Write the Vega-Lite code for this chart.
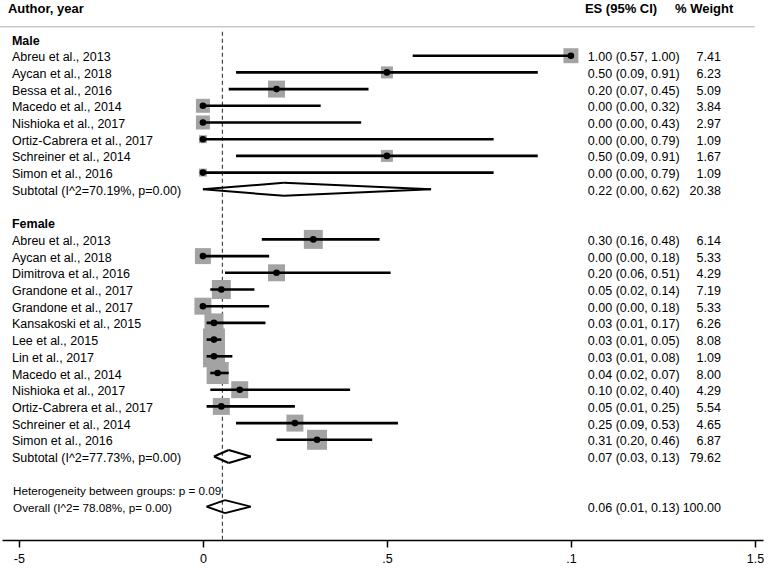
{
  "$schema": "https://vega.github.io/schema/vega-lite/v6.json",
  "width": 761,
  "height": 540,
  "autosize": {"type": "none"},
  "padding": {"left": 2, "top": 0, "right": 5, "bottom": 30},
  "background": "white",
  "config": {
    "view": {"stroke": null},
    "font": "Liberation Sans",
    "text": {"font": "Liberation Sans", "color": "black"}
  },
  "datasets": {
    "rows": [
      {"id": "Male", "label": "Male", "type": "group"},
      {"id": "M1", "label": "Abreu et al., 2013", "type": "study", "es": 1.00, "lo": 0.57, "hi": 1.00, "w": 7.41, "boxW": 5.6},
      {"id": "M2", "label": "Aycan et al., 2018", "type": "study", "es": 0.50, "lo": 0.09, "hi": 0.91, "w": 6.23, "boxW": 3.6},
      {"id": "M3", "label": "Bessa et al., 2016", "type": "study", "es": 0.20, "lo": 0.07, "hi": 0.45, "w": 5.09, "boxW": 7.2},
      {"id": "M4", "label": "Macedo et al., 2014", "type": "study", "es": 0.00, "lo": 0.00, "hi": 0.32, "w": 3.84, "boxW": 4.9},
      {"id": "M5", "label": "Nishioka et al., 2017", "type": "study", "es": 0.00, "lo": 0.00, "hi": 0.43, "w": 2.97, "boxW": 4.9},
      {"id": "M6", "label": "Ortiz-Cabrera et al., 2017", "type": "study", "es": 0.00, "lo": 0.00, "hi": 0.79, "w": 1.09, "boxW": 1.6},
      {"id": "M7", "label": "Schreiner et al., 2014", "type": "study", "es": 0.50, "lo": 0.09, "hi": 0.91, "w": 1.67, "boxW": 3.6},
      {"id": "M8", "label": "Simon et al., 2016", "type": "study", "es": 0.00, "lo": 0.00, "hi": 0.79, "w": 1.09, "boxW": 1.6},
      {"id": "MSub", "label": "Subtotal (I^2=70.19%, p=0.00)", "type": "subtotal", "es": 0.22, "lo": 0.00, "hi": 0.62, "w": 20.38},
      {"id": "Female", "label": "Female", "type": "group"},
      {"id": "F1", "label": "Abreu et al., 2013", "type": "study", "es": 0.30, "lo": 0.16, "hi": 0.48, "w": 6.14, "boxW": 9.0},
      {"id": "F2", "label": "Aycan et al., 2018", "type": "study", "es": 0.00, "lo": 0.00, "hi": 0.18, "w": 5.33, "boxW": 6.4},
      {"id": "F3", "label": "Dimitrova et al., 2016", "type": "study", "es": 0.20, "lo": 0.06, "hi": 0.51, "w": 4.29, "boxW": 7.2},
      {"id": "F4", "label": "Grandone et al., 2017", "type": "study", "es": 0.05, "lo": 0.02, "hi": 0.14, "w": 7.19, "boxW": 9.0},
      {"id": "F5", "label": "Grandone et al., 2017", "type": "study", "es": 0.00, "lo": 0.00, "hi": 0.18, "w": 5.33, "boxW": 7.2},
      {"id": "F6", "label": "Kansakoski et al., 2015", "type": "study", "es": 0.03, "lo": 0.01, "hi": 0.17, "w": 6.26, "boxW": 9.0},
      {"id": "F7", "label": "Lee et al., 2015", "type": "study", "es": 0.03, "lo": 0.01, "hi": 0.05, "w": 8.08, "boxW": 12.1},
      {"id": "F8", "label": "Lin et al., 2017", "type": "study", "es": 0.03, "lo": 0.01, "hi": 0.08, "w": 1.09, "boxW": 12.1},
      {"id": "F9", "label": "Macedo et al., 2014", "type": "study", "es": 0.04, "lo": 0.02, "hi": 0.07, "w": 8.00, "boxW": 12.1},
      {"id": "F10", "label": "Nishioka et al., 2017", "type": "study", "es": 0.10, "lo": 0.02, "hi": 0.40, "w": 4.29, "boxW": 7.2},
      {"id": "F11", "label": "Ortiz-Cabrera et al., 2017", "type": "study", "es": 0.05, "lo": 0.01, "hi": 0.25, "w": 5.54, "boxW": 7.2},
      {"id": "F12", "label": "Schreiner et al., 2014", "type": "study", "es": 0.25, "lo": 0.09, "hi": 0.53, "w": 4.65, "boxW": 7.2},
      {"id": "F13", "label": "Simon et al., 2016", "type": "study", "es": 0.31, "lo": 0.20, "hi": 0.46, "w": 6.87, "boxW": 10.0},
      {"id": "FSub", "label": "Subtotal (I^2=77.73%, p=0.00)", "type": "subtotal", "es": 0.07, "lo": 0.03, "hi": 0.13, "w": 79.62},
      {"id": "Het", "label": "Heterogeneity between groups: p = 0.09", "type": "note"},
      {"id": "Overall", "label": "Overall (I^2= 78.08%, p= 0.00)", "type": "overall", "es": 0.06, "lo": 0.01, "hi": 0.13, "w": 100.00}
    ]
  },
  "data": {"name": "rows"},
  "encoding": {
    "y": {
      "field": "id",
      "type": "nominal",
      "scale": {
        "domain": ["hdr", "sep", "Male", "M1", "M2", "M3", "M4", "M5", "M6", "M7", "M8", "MSub", "gapA", "Female", "F1", "F2", "F3", "F4", "F5", "F6", "F7", "F8", "F9", "F10", "F11", "F12", "F13", "FSub", "gapB", "Het", "Overall", "end"],
        "range": [-2.75, 531.65],
        "paddingInner": 0,
        "paddingOuter": 0
      },
      "axis": null
    }
  },
  "layer": [
    {
      "data": {"values": [{}]},
      "mark": {"type": "rule", "color": "#c8c8c8", "strokeWidth": 1.5, "yOffset": 4.4},
      "encoding": {
        "x": {"datum": -0.552, "type": "quantitative", "title": null},
        "x2": {"datum": 1.5},
        "y": {"datum": "sep", "type": "nominal"}
      }
    },
    {
      "data": {"values": [{}]},
      "mark": {"type": "rule", "color": "#444444", "strokeWidth": 1.2, "strokeDash": [4, 3], "yOffset": 9.5},
      "encoding": {
        "x": {"datum": 0.053, "type": "quantitative", "title": null},
        "y": {"datum": "sep", "type": "nominal"},
        "y2": {"value": "height"}
      }
    },
    {
      "transform": [{"filter": "datum.type === 'study'"}],
      "mark": {"type": "point", "shape": "square", "filled": true, "color": "#a3a3a3", "opacity": 1, "strokeWidth": 0},
      "encoding": {
        "x": {"field": "es", "type": "quantitative", "title": null},
        "size": {"field": "boxW", "type": "quantitative", "scale": {"type": "linear", "domain": [0, 12.1], "range": [0, 484]}, "legend": null}
      }
    },
    {
      "transform": [{"filter": "datum.type === 'study'"}],
      "mark": {"type": "rule", "color": "black", "strokeWidth": 2.6},
      "encoding": {
        "x": {
          "field": "lo",
          "type": "quantitative",
          "title": null,
          "scale": {"domain": [-0.546, 1.522], "nice": false, "zero": false},
          "axis": {
            "values": [-0.5, 0, 0.5, 1, 1.5],
            "labelExpr": "datum.value < -0.1 ? '-5' : datum.value < 0.1 ? '0' : datum.value < 0.6 ? '.5' : datum.value < 1.1 ? '.1' : '1.5'",
            "grid": false,
            "title": null,
            "domainColor": "black",
            "domainWidth": 1.5,
            "tickColor": "black",
            "tickWidth": 1.5,
            "tickSize": 7,
            "labelFont": "Liberation Sans",
            "labelFontSize": 12.5,
            "labelColor": "black",
            "labelPadding": 5,
            "labelFlush": false
          }
        },
        "x2": {"field": "hi"}
      }
    },
    {
      "transform": [{"filter": "datum.type === 'study'"}],
      "mark": {"type": "point", "shape": "circle", "filled": true, "color": "black", "opacity": 1, "size": 44},
      "encoding": {
        "x": {"field": "es", "type": "quantitative", "title": null}
      }
    },
    {
      "transform": [{"filter": "datum.type === 'subtotal' || datum.type === 'overall'"}],
      "mark": {"type": "rule", "color": "black", "strokeWidth": 2, "y2Offset": -6.5},
      "encoding": {
        "x": {"field": "lo", "type": "quantitative", "title": null},
        "x2": {"field": "es"},
        "y": {"field": "id", "type": "nominal", "bandPosition": 0.5},
        "y2": {"field": "id", "bandPosition": 0.5}
      }
    },
    {
      "transform": [{"filter": "datum.type === 'subtotal' || datum.type === 'overall'"}],
      "mark": {"type": "rule", "color": "black", "strokeWidth": 2, "yOffset": -6.5},
      "encoding": {
        "x": {"field": "es", "type": "quantitative", "title": null},
        "x2": {"field": "hi"},
        "y": {"field": "id", "type": "nominal", "bandPosition": 0.5},
        "y2": {"field": "id", "bandPosition": 0.5}
      }
    },
    {
      "transform": [{"filter": "datum.type === 'subtotal' || datum.type === 'overall'"}],
      "mark": {"type": "rule", "color": "black", "strokeWidth": 2, "y2Offset": 6.5},
      "encoding": {
        "x": {"field": "lo", "type": "quantitative", "title": null},
        "x2": {"field": "es"},
        "y": {"field": "id", "type": "nominal", "bandPosition": 0.5},
        "y2": {"field": "id", "bandPosition": 0.5}
      }
    },
    {
      "transform": [{"filter": "datum.type === 'subtotal' || datum.type === 'overall'"}],
      "mark": {"type": "rule", "color": "black", "strokeWidth": 2, "yOffset": 6.5},
      "encoding": {
        "x": {"field": "es", "type": "quantitative", "title": null},
        "x2": {"field": "hi"},
        "y": {"field": "id", "type": "nominal", "bandPosition": 0.5},
        "y2": {"field": "id", "bandPosition": 0.5}
      }
    },
    {
      "transform": [{"filter": "datum.type === 'study' || datum.type === 'subtotal'"}],
      "mark": {"type": "text", "align": "left", "baseline": "middle", "dy": 1.5, "fontSize": 12.5},
      "encoding": {
        "x": {"datum": -0.519, "type": "quantitative", "title": null},
        "text": {"field": "label"}
      }
    },
    {
      "transform": [{"filter": "datum.type === 'group'"}],
      "mark": {"type": "text", "align": "left", "baseline": "middle", "dy": 1.5, "fontSize": 12.5, "fontWeight": "bold"},
      "encoding": {
        "x": {"datum": -0.519, "type": "quantitative", "title": null},
        "text": {"field": "label"}
      }
    },
    {
      "transform": [{"filter": "datum.type === 'note' || datum.type === 'overall'"}],
      "mark": {"type": "text", "align": "left", "baseline": "middle", "dy": 1.5, "fontSize": 11.7},
      "encoding": {
        "x": {"datum": -0.516, "type": "quantitative", "title": null},
        "text": {"field": "label"}
      }
    },
    {
      "transform": [
        {"filter": "isValid(datum.es)"},
        {"calculate": "format(datum.es, '.2f') + ' (' + format(datum.lo, '.2f') + ', ' + format(datum.hi, '.2f') + ')'", "as": "ciText"}
      ],
      "mark": {"type": "text", "align": "left", "baseline": "middle", "dy": 1.5, "fontSize": 12.5},
      "encoding": {
        "x": {"datum": 1.046, "type": "quantitative", "title": null},
        "text": {"field": "ciText"}
      }
    },
    {
      "transform": [{"filter": "isValid(datum.w)"}],
      "mark": {"type": "text", "align": "right", "baseline": "middle", "dy": 1.5, "fontSize": 12.5},
      "encoding": {
        "x": {"datum": 1.4076, "type": "quantitative", "title": null},
        "text": {"field": "w", "type": "quantitative", "format": ".2f"}
      }
    },
    {
      "data": {"values": [{}]},
      "mark": {"type": "text", "align": "left", "baseline": "middle", "dy": 3, "fontSize": 13, "fontWeight": "bold"},
      "encoding": {
        "x": {"datum": -0.530, "type": "quantitative", "title": null},
        "y": {"datum": "hdr", "type": "nominal"},
        "text": {"value": "Author, year"}
      }
    },
    {
      "data": {"values": [{}]},
      "mark": {"type": "text", "align": "left", "baseline": "middle", "dy": 3, "fontSize": 13, "fontWeight": "bold"},
      "encoding": {
        "x": {"datum": 1.038, "type": "quantitative", "title": null},
        "y": {"datum": "hdr", "type": "nominal"},
        "text": {"value": "ES (95% CI)"}
      }
    },
    {
      "data": {"values": [{}]},
      "mark": {"type": "text", "align": "left", "baseline": "middle", "dy": 3, "fontSize": 13, "fontWeight": "bold"},
      "encoding": {
        "x": {"datum": 1.283, "type": "quantitative", "title": null},
        "y": {"datum": "hdr", "type": "nominal"},
        "text": {"value": "% Weight"}
      }
    }
  ]
}
